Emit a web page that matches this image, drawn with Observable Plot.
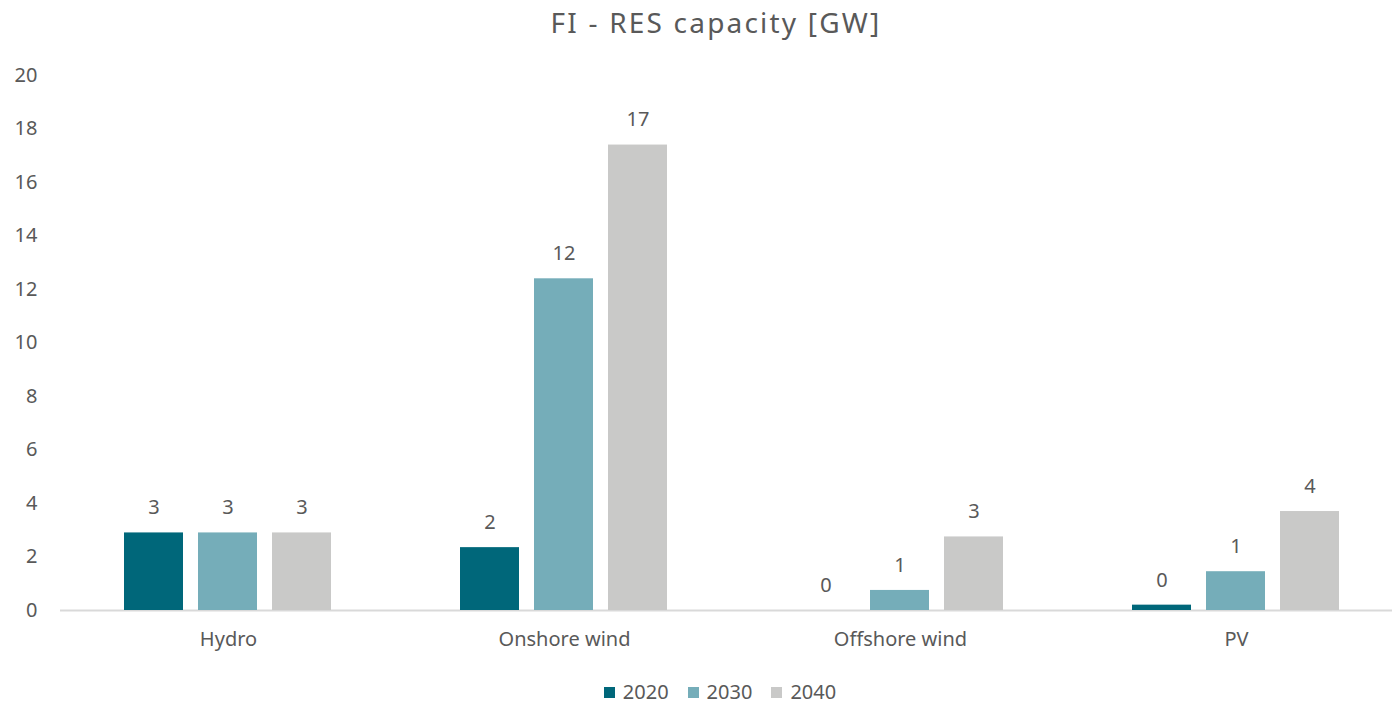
<!DOCTYPE html>
<html>
<head>
<meta charset="utf-8">
<script src="https://cdn.jsdelivr.net/npm/d3@7"></script>
<script src="https://cdn.jsdelivr.net/npm/@observablehq/plot@0.6"></script>
<style>
  body { margin: 0; background: #fff; font-family: "Noto Sans", "Open Sans", sans-serif; color: #595959; }
  #wrap { position: relative; width: 1392px; height: 705px; overflow: hidden; }
  #title { position: absolute; top: 0; left: 40px; width: 1352px; height: 45px; line-height: 45px; text-align: center; font-size: 28px; letter-spacing: 2.2px; color: #595959; }
  #chart { position: absolute; top: 45px; left: 0; width: 1392px; overflow: hidden; }
  #legend { position: absolute; top: 679px; left: 48px; width: 1344px; display: flex; justify-content: center; gap: 19px; font-size: 20px; color: #595959; line-height: 26px; }
  #legend .item { display: flex; align-items: center; gap: 8px; }
  #legend .sw { width: 11px; height: 11px; display: inline-block; }
</style>
</head>
<body>
<div id="wrap">
  <div id="title">FI - RES capacity [GW]</div>
  <div id="chart"></div>
  <div id="legend"></div>
</div>
<script>
const categories = ["Hydro", "Onshore wind", "Offshore wind", "PV"];
const years = ["2020", "2030", "2040"];
const values2020 = [2.9, 2.35, 0, 0.2];
const values2030 = [2.9, 12.4, 0.75, 1.45];
const values2040 = [2.9, 17.4, 2.75, 3.7];
const colors = ["#00677a", "#75adb9", "#c9c9c8"];
const yTicks = [0, 2, 4, 6, 8, 10, 12, 14, 16, 18, 20];

const series = [values2020, values2030, values2040];
const data = [];
categories.forEach((c, i) => {
  years.forEach((y, j) => data.push({category: c, year: y, value: series[j][i]}));
});

const chart = Plot.plot({
  width: 1392,
  height: 615,
  marginLeft: 60,
  marginRight: -12,
  marginTop: 30,
  marginBottom: 50,
  style: {fontFamily: '"Noto Sans", "Open Sans", sans-serif', fontSize: "20px", color: "#595959", background: "transparent", overflow: "hidden"},
  fx: {domain: categories, paddingInner: 0.38, paddingOuter: 0.19, label: null, tickSize: 0, tickPadding: 21},
  x: {domain: years, axis: null, paddingInner: 0.2, paddingOuter: 0},
  y: {domain: [0, 20], ticks: yTicks, tickSize: 0, tickPadding: 87, label: null},
  color: {domain: years, range: colors},
  marks: [
    Plot.ruleY([0], {stroke: "#d9d9d9", strokeWidth: 2, insetLeft: -64, insetRight: -64}),
    Plot.barY(data, {fx: "category", x: "year", y: "value", fill: "year"}),
    Plot.text(data, {fx: "category", x: "year", y: "value", text: d => d3.format(".0f")(d.value), dy: -25, fill: "#595959", fontSize: 20})
  ]
});
document.getElementById("chart").appendChild(chart);

const legend = document.getElementById("legend");
years.forEach((y, j) => {
  const item = document.createElement("div");
  item.className = "item";
  const sw = document.createElement("span");
  sw.className = "sw";
  sw.style.background = colors[j];
  const t = document.createElement("span");
  t.textContent = y;
  item.appendChild(sw);
  item.appendChild(t);
  legend.appendChild(item);
});
</script>
</body>
</html>
